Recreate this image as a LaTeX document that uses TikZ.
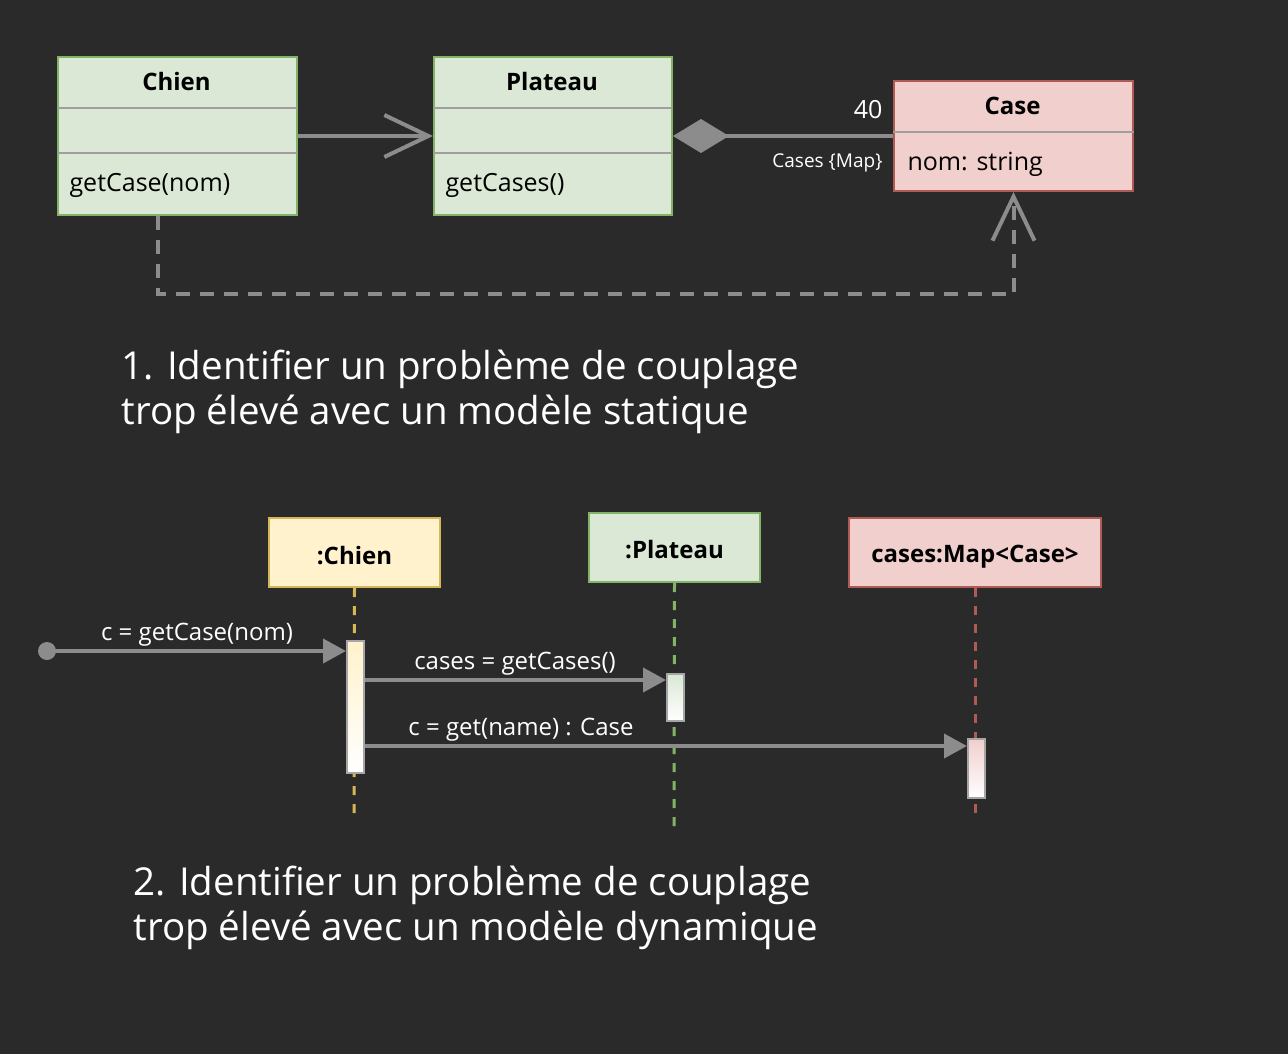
\documentclass[tikz,border=0pt]{standalone}
\usepackage{fontspec}
\setmainfont{Open Sans}
\usepackage{xcolor}
\usepackage{tikz}
\usetikzlibrary{shapes,arrows.meta,positioning,calc}

\definecolor{bgdark}{HTML}{2A2A2A}
\definecolor{greenfill}{HTML}{DAE8D5}
\definecolor{greenline}{HTML}{82B366}
\definecolor{yellowfill}{HTML}{FFF2CC}
\definecolor{yellowline}{HTML}{D6B656}
\definecolor{redfill}{HTML}{F0CFCC}
\definecolor{redline}{HTML}{B05A55}
\definecolor{linkgray}{HTML}{8C8C8C}

\tikzset{
  classbox/.style={draw, line width=2pt, anchor=north west, inner sep=0pt},
  sepline/.style={draw=gray!75, line width=1.5pt},
  classtitle/.style={font=\fontsize{24}{28}\selectfont\bfseries, text=black},
  classtext/.style={font=\fontsize{25}{29}\selectfont, text=black, anchor=west},
  link/.style={draw=linkgray, line width=4pt},
  openhead/.style={-{Straight Barb[length=44pt,width=42pt]}},
  fillhead/.style={-{Triangle[length=23pt,width=24pt]}},
  lifeline/.style={line width=3pt, dash pattern=on 9pt off 9pt},
  actbar/.style={draw=gray!70, line width=2pt, bottom color=white, anchor=north west,
    minimum width=17pt, inner sep=0pt},
  msgtext/.style={font=\fontsize{24}{28}\selectfont, text=white},
  bigtext/.style={font=\fontsize{38.5}{45}\selectfont, text=white, align=left, anchor=north west}
}

\begin{document}
\begin{tikzpicture}[x=1pt,y=-1pt]
% Background
\fill[bgdark] (0,0) rectangle (1288,1054);
\useasboundingbox (0,0) rectangle (1288,1054);

% Static model: classes
\node[classbox, fill=greenfill, draw=greenline, minimum width=239pt, minimum height=158pt] (chien) at (57,56) {};
\node[classtitle] (chientitle) at (176.5,82) {Chien};
\draw[sepline] ($(chien.north west)+(0,52)$) -- ($(chien.north east)+(0,52)$);
\draw[sepline] ($(chien.north west)+(0,97)$) -- ($(chien.north east)+(0,97)$);
\node[classtext] (chienop) at (66,185) {getCase(nom)};

\node[classbox, fill=greenfill, draw=greenline, minimum width=238pt, minimum height=158pt] (plateau) at (433,56) {};
\node[classtitle] (plateautitle) at (552,82) {Plateau};
\draw[sepline] ($(plateau.north west)+(0,52)$) -- ($(plateau.north east)+(0,52)$);
\draw[sepline] ($(plateau.north west)+(0,97)$) -- ($(plateau.north east)+(0,97)$);
\node[classtext] (plateauop) at (442,185) {getCases()};

\node[classbox, fill=redfill, draw=redline, minimum width=239pt, minimum height=110pt] (case) at (893,80) {};
\node[classtitle] (casetitle) at (1012.5,106) {Case};
\draw[sepline] ($(case.north west)+(0,52)$) -- ($(case.north east)+(0,52)$);
\node[classtext] (caseattr) at (904,164) {nom: string};

% Associations
\draw[link, openhead] (chien.east) -- (plateau.west);
\draw[link, {Diamond[length=56pt,width=34pt]}-] (plateau.east) -- (case.west);
\node[text=white, font=\fontsize{25}{29}\selectfont, anchor=east] (mult) at (886,110) {40};
\node[text=white, font=\fontsize{19}{22}\selectfont, anchor=east] (role) at (886,163) {Cases \{Map\}};
\draw[link, openhead, dash pattern=on 14pt off 10pt] ([xshift=-19.5pt]chien.south) -- ++(0,78) -| (case.south);

% Caption 1
\node[bigtext] (caption1) at (118,346) {1. Identifier un problème de couplage\\trop élevé avec un modèle statique};

% Dynamic model: lifelines
\node[classbox, fill=yellowfill, draw=yellowline, minimum width=171pt, minimum height=69pt] (lchien) at (268,517) {};
\node[classtitle] at ([yshift=-3pt]lchien.center) {:Chien};
\node[classbox, fill=greenfill, draw=greenline, minimum width=171pt, minimum height=69pt] (lplateau) at (588,512) {};
\node[classtitle] at ([yshift=-2pt]lplateau.center) {:Plateau};
\node[classbox, fill=redfill, draw=redline, minimum width=252pt, minimum height=69pt] (lcase) at (848,517) {};
\node[classtitle] at ([yshift=-4pt]lcase.center) {cases:Map<Case>};

\coordinate (endchien) at (354,820);
\coordinate (endplateau) at (674,828);
\coordinate (endcase) at (975,820);
\draw[lifeline, yellowline] (lchien.south) -- (endchien);
\draw[lifeline, greenline] (lplateau.south) -- (endplateau);
\draw[lifeline, redline] (lcase.south) -- (endcase);

% Activation bars
\node[actbar, top color=yellowfill, minimum height=132pt] (actchien) at (346,640) {};
\node[actbar, top color=greenfill, minimum height=47pt] (actplateau) at (666,673) {};
\node[actbar, top color=redfill, minimum height=59pt] (actcase) at (967,738) {};

% Messages
\coordinate (found) at (47,651);
\fill[linkgray] (found) circle (9);
\draw[link, fillhead] (found) -- ($(actchien.north west)+(0,11)$);
\node[msgtext] (msg1) at (197,635) {c = getCase(nom)};
\draw[link, fillhead] (actchien.east |- {$(actplateau.north west)+(0,7)$}) -- ($(actplateau.north west)+(0,7)$);
\node[msgtext] (msg2) at (515,664) {cases = getCases()};
\draw[link, fillhead] (actchien.east |- {$(actcase.north west)+(0,8)$}) -- ($(actcase.north west)+(0,8)$);
\node[msgtext] (msg3) at (521,730) {c = get(name) : Case};

% Caption 2
\node[bigtext] (caption2) at (130,862) {2. Identifier un problème de couplage\\trop élevé avec un modèle dynamique};
\end{tikzpicture}
\end{document}
